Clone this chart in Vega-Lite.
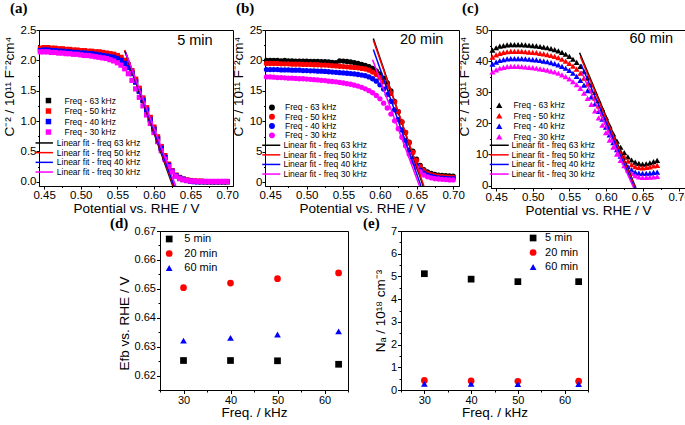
{
"$schema": "https://vega.github.io/schema/vega-lite/v6.json",
"background": "white",
"padding": {"left": 1, "top": 0, "right": 0, "bottom": 0},
"config": {
  "font": "Liberation Sans",
  "view": {"stroke": "black", "strokeWidth": 1},
  "axis": {"grid": false, "domainColor": "black", "tickColor": "black", "labelColor": "black", "titleColor": "black", "labelFont": "Liberation Sans", "titleFont": "Liberation Sans", "labelFontSize": 11.5, "titleFontSize": 13.5, "titleFontWeight": "normal", "labelFlush": false, "labelOverlap": false, "labelBound": false, "labelPadding": 1, "tickWidth": 1, "domainWidth": 1},
  "legend": {"labelFont": "Liberation Sans", "labelColor": "black"},
  "title": {"font": "Liberation Serif", "fontSize": 15, "fontWeight": "bold", "color": "black", "anchor": "start", "frame": "group"}
},
"datasets": {
"a": [
{"f":"63","x":0.445,"y":2.17},{"f":"63","x":0.45,"y":2.18},{"f":"63","x":0.455,"y":2.18},{"f":"63","x":0.46,"y":2.17},{"f":"63","x":0.465,"y":2.17},{"f":"63","x":0.47,"y":2.16},{"f":"63","x":0.475,"y":2.16},{"f":"63","x":0.48,"y":2.15},{"f":"63","x":0.485,"y":2.15},{"f":"63","x":0.49,"y":2.14},{"f":"63","x":0.495,"y":2.14},{"f":"63","x":0.5,"y":2.13},{"f":"63","x":0.505,"y":2.13},{"f":"63","x":0.51,"y":2.12},{"f":"63","x":0.515,"y":2.12},{"f":"63","x":0.52,"y":2.11},{"f":"63","x":0.525,"y":2.11},{"f":"63","x":0.53,"y":2.10},{"f":"63","x":0.535,"y":2.09},{"f":"63","x":0.54,"y":2.08},{"f":"63","x":0.545,"y":2.07},{"f":"63","x":0.55,"y":2.05},{"f":"63","x":0.555,"y":2.02},{"f":"63","x":0.56,"y":1.97},{"f":"63","x":0.565,"y":1.90},{"f":"63","x":0.57,"y":1.80},{"f":"63","x":0.575,"y":1.66},{"f":"63","x":0.58,"y":1.50},{"f":"63","x":0.585,"y":1.35},{"f":"63","x":0.59,"y":1.19},{"f":"63","x":0.595,"y":1.03},{"f":"63","x":0.6,"y":0.87},{"f":"63","x":0.605,"y":0.71},{"f":"63","x":0.61,"y":0.55},{"f":"63","x":0.615,"y":0.40},{"f":"63","x":0.62,"y":0.27},{"f":"63","x":0.625,"y":0.17},{"f":"63","x":0.63,"y":0.10},{"f":"63","x":0.635,"y":0.06},{"f":"63","x":0.64,"y":0.04},{"f":"63","x":0.645,"y":0.02},{"f":"63","x":0.65,"y":0.01},{"f":"63","x":0.655,"y":0.01},{"f":"63","x":0.66,"y":0},{"f":"63","x":0.665,"y":0},{"f":"63","x":0.67,"y":0},{"f":"63","x":0.675,"y":0},{"f":"63","x":0.68,"y":0},{"f":"63","x":0.685,"y":0},{"f":"63","x":0.69,"y":0},{"f":"63","x":0.695,"y":0},{"f":"63","x":0.7,"y":0},
{"f":"50","x":0.445,"y":2.20},{"f":"50","x":0.45,"y":2.21},{"f":"50","x":0.455,"y":2.21},{"f":"50","x":0.46,"y":2.20},{"f":"50","x":0.465,"y":2.20},{"f":"50","x":0.47,"y":2.19},{"f":"50","x":0.475,"y":2.19},{"f":"50","x":0.48,"y":2.18},{"f":"50","x":0.485,"y":2.18},{"f":"50","x":0.49,"y":2.17},{"f":"50","x":0.495,"y":2.17},{"f":"50","x":0.5,"y":2.16},{"f":"50","x":0.505,"y":2.16},{"f":"50","x":0.51,"y":2.15},{"f":"50","x":0.515,"y":2.15},{"f":"50","x":0.52,"y":2.14},{"f":"50","x":0.525,"y":2.14},{"f":"50","x":0.53,"y":2.13},{"f":"50","x":0.535,"y":2.12},{"f":"50","x":0.54,"y":2.11},{"f":"50","x":0.545,"y":2.10},{"f":"50","x":0.55,"y":2.08},{"f":"50","x":0.555,"y":2.05},{"f":"50","x":0.56,"y":2.00},{"f":"50","x":0.565,"y":1.93},{"f":"50","x":0.57,"y":1.83},{"f":"50","x":0.575,"y":1.69},{"f":"50","x":0.58,"y":1.54},{"f":"50","x":0.585,"y":1.38},{"f":"50","x":0.59,"y":1.22},{"f":"50","x":0.595,"y":1.06},{"f":"50","x":0.6,"y":0.90},{"f":"50","x":0.605,"y":0.74},{"f":"50","x":0.61,"y":0.58},{"f":"50","x":0.615,"y":0.43},{"f":"50","x":0.62,"y":0.29},{"f":"50","x":0.625,"y":0.18},{"f":"50","x":0.63,"y":0.11},{"f":"50","x":0.635,"y":0.07},{"f":"50","x":0.64,"y":0.04},{"f":"50","x":0.645,"y":0.03},{"f":"50","x":0.65,"y":0.02},{"f":"50","x":0.655,"y":0.01},{"f":"50","x":0.66,"y":0.01},{"f":"50","x":0.665,"y":0.01},{"f":"50","x":0.67,"y":0},{"f":"50","x":0.675,"y":0},{"f":"50","x":0.68,"y":0},{"f":"50","x":0.685,"y":0},{"f":"50","x":0.69,"y":0},{"f":"50","x":0.695,"y":0},{"f":"50","x":0.7,"y":0},
{"f":"40","x":0.445,"y":2.16},{"f":"40","x":0.45,"y":2.17},{"f":"40","x":0.455,"y":2.17},{"f":"40","x":0.46,"y":2.16},{"f":"40","x":0.465,"y":2.16},{"f":"40","x":0.47,"y":2.15},{"f":"40","x":0.475,"y":2.15},{"f":"40","x":0.48,"y":2.14},{"f":"40","x":0.485,"y":2.14},{"f":"40","x":0.49,"y":2.13},{"f":"40","x":0.495,"y":2.13},{"f":"40","x":0.5,"y":2.12},{"f":"40","x":0.505,"y":2.12},{"f":"40","x":0.51,"y":2.11},{"f":"40","x":0.515,"y":2.11},{"f":"40","x":0.52,"y":2.10},{"f":"40","x":0.525,"y":2.09},{"f":"40","x":0.53,"y":2.08},{"f":"40","x":0.535,"y":2.07},{"f":"40","x":0.54,"y":2.06},{"f":"40","x":0.545,"y":2.05},{"f":"40","x":0.55,"y":2.03},{"f":"40","x":0.555,"y":2.00},{"f":"40","x":0.56,"y":1.95},{"f":"40","x":0.565,"y":1.88},{"f":"40","x":0.57,"y":1.78},{"f":"40","x":0.575,"y":1.64},{"f":"40","x":0.58,"y":1.49},{"f":"40","x":0.585,"y":1.34},{"f":"40","x":0.59,"y":1.18},{"f":"40","x":0.595,"y":1.02},{"f":"40","x":0.6,"y":0.86},{"f":"40","x":0.605,"y":0.70},{"f":"40","x":0.61,"y":0.55},{"f":"40","x":0.615,"y":0.40},{"f":"40","x":0.62,"y":0.27},{"f":"40","x":0.625,"y":0.17},{"f":"40","x":0.63,"y":0.10},{"f":"40","x":0.635,"y":0.06},{"f":"40","x":0.64,"y":0.04},{"f":"40","x":0.645,"y":0.02},{"f":"40","x":0.65,"y":0.01},{"f":"40","x":0.655,"y":0},{"f":"40","x":0.66,"y":0},{"f":"40","x":0.665,"y":0},{"f":"40","x":0.67,"y":0},{"f":"40","x":0.675,"y":0},{"f":"40","x":0.68,"y":0},{"f":"40","x":0.685,"y":0},{"f":"40","x":0.69,"y":0},{"f":"40","x":0.695,"y":0},{"f":"40","x":0.7,"y":0},
{"f":"30","x":0.445,"y":2.14},{"f":"30","x":0.45,"y":2.14},{"f":"30","x":0.455,"y":2.14},{"f":"30","x":0.46,"y":2.13},{"f":"30","x":0.465,"y":2.13},{"f":"30","x":0.47,"y":2.12},{"f":"30","x":0.475,"y":2.12},{"f":"30","x":0.48,"y":2.11},{"f":"30","x":0.485,"y":2.11},{"f":"30","x":0.49,"y":2.10},{"f":"30","x":0.495,"y":2.10},{"f":"30","x":0.5,"y":2.09},{"f":"30","x":0.505,"y":2.08},{"f":"30","x":0.51,"y":2.08},{"f":"30","x":0.515,"y":2.07},{"f":"30","x":0.52,"y":2.06},{"f":"30","x":0.525,"y":2.05},{"f":"30","x":0.53,"y":2.04},{"f":"30","x":0.535,"y":2.03},{"f":"30","x":0.54,"y":2.01},{"f":"30","x":0.545,"y":1.99},{"f":"30","x":0.55,"y":1.96},{"f":"30","x":0.555,"y":1.92},{"f":"30","x":0.56,"y":1.86},{"f":"30","x":0.565,"y":1.78},{"f":"30","x":0.57,"y":1.67},{"f":"30","x":0.575,"y":1.53},{"f":"30","x":0.58,"y":1.39},{"f":"30","x":0.585,"y":1.25},{"f":"30","x":0.59,"y":1.10},{"f":"30","x":0.595,"y":0.96},{"f":"30","x":0.6,"y":0.81},{"f":"30","x":0.605,"y":0.66},{"f":"30","x":0.61,"y":0.51},{"f":"30","x":0.615,"y":0.37},{"f":"30","x":0.62,"y":0.25},{"f":"30","x":0.625,"y":0.16},{"f":"30","x":0.63,"y":0.09},{"f":"30","x":0.635,"y":0.05},{"f":"30","x":0.64,"y":0.03},{"f":"30","x":0.645,"y":0.02},{"f":"30","x":0.65,"y":0.01},{"f":"30","x":0.655,"y":0.01},{"f":"30","x":0.66,"y":0.005},{"f":"30","x":0.665,"y":0.005},{"f":"30","x":0.67,"y":0.005},{"f":"30","x":0.675,"y":0.005},{"f":"30","x":0.68,"y":0.005},{"f":"30","x":0.685,"y":0.005},{"f":"30","x":0.69,"y":0.005},{"f":"30","x":0.695,"y":0.005},{"f":"30","x":0.7,"y":0.005}
],
"aL": [
{"g":"Linear fit - freq 63 kHz","x":0.560,"y":2.16},{"g":"Linear fit - freq 63 kHz","x":0.626,"y":-0.08},
{"g":"Linear fit - freq 50 kHz","x":0.560,"y":2.17},{"g":"Linear fit - freq 50 kHz","x":0.627,"y":-0.08},
{"g":"Linear fit - freq 40 kHz","x":0.561,"y":2.14},{"g":"Linear fit - freq 40 kHz","x":0.628,"y":-0.08},
{"g":"Linear fit - freq 30 kHz","x":0.562,"y":2.11},{"g":"Linear fit - freq 30 kHz","x":0.630,"y":-0.08}
],
"aT": [{"t":"5 min","x":0.656,"y":2.32}],
"b": [
{"f":"63","x":0.445,"y":20.0},{"f":"63","x":0.45,"y":20.0},{"f":"63","x":0.455,"y":20.0},{"f":"63","x":0.46,"y":20.0},{"f":"63","x":0.465,"y":19.95},{"f":"63","x":0.47,"y":20.0},{"f":"63","x":0.475,"y":19.95},{"f":"63","x":0.48,"y":19.95},{"f":"63","x":0.485,"y":19.9},{"f":"63","x":0.49,"y":19.9},{"f":"63","x":0.495,"y":19.9},{"f":"63","x":0.5,"y":19.9},{"f":"63","x":0.505,"y":19.85},{"f":"63","x":0.51,"y":19.85},{"f":"63","x":0.515,"y":19.85},{"f":"63","x":0.52,"y":19.8},{"f":"63","x":0.525,"y":19.8},{"f":"63","x":0.53,"y":19.75},{"f":"63","x":0.535,"y":19.7},{"f":"63","x":0.54,"y":19.65},{"f":"63","x":0.545,"y":19.95},{"f":"63","x":0.55,"y":19.9},{"f":"63","x":0.555,"y":19.85},{"f":"63","x":0.56,"y":19.75},{"f":"63","x":0.565,"y":19.65},{"f":"63","x":0.57,"y":19.5},{"f":"63","x":0.575,"y":19.35},{"f":"63","x":0.58,"y":19.2},{"f":"63","x":0.585,"y":19.0},{"f":"63","x":0.59,"y":18.7},{"f":"63","x":0.595,"y":18.3},{"f":"63","x":0.6,"y":17.8},{"f":"63","x":0.605,"y":17.1},{"f":"63","x":0.61,"y":16.3},{"f":"63","x":0.615,"y":15.0},{"f":"63","x":0.62,"y":13.3},{"f":"63","x":0.625,"y":11.6},{"f":"63","x":0.63,"y":9.9},{"f":"63","x":0.635,"y":8.2},{"f":"63","x":0.64,"y":6.6},{"f":"63","x":0.645,"y":5.1},{"f":"63","x":0.65,"y":3.8},{"f":"63","x":0.655,"y":2.8},{"f":"63","x":0.66,"y":2.1},{"f":"63","x":0.665,"y":1.7},{"f":"63","x":0.67,"y":1.45},{"f":"63","x":0.675,"y":1.3},{"f":"63","x":0.68,"y":1.2},{"f":"63","x":0.685,"y":1.15},{"f":"63","x":0.69,"y":1.1},{"f":"63","x":0.695,"y":1.05},{"f":"63","x":0.7,"y":1.0},
{"f":"50","x":0.445,"y":19.5},{"f":"50","x":0.45,"y":19.5},{"f":"50","x":0.455,"y":19.5},{"f":"50","x":0.46,"y":19.5},{"f":"50","x":0.465,"y":19.45},{"f":"50","x":0.47,"y":19.45},{"f":"50","x":0.475,"y":19.45},{"f":"50","x":0.48,"y":19.4},{"f":"50","x":0.485,"y":19.4},{"f":"50","x":0.49,"y":19.4},{"f":"50","x":0.495,"y":19.35},{"f":"50","x":0.5,"y":19.35},{"f":"50","x":0.505,"y":19.35},{"f":"50","x":0.51,"y":19.3},{"f":"50","x":0.515,"y":19.3},{"f":"50","x":0.52,"y":19.25},{"f":"50","x":0.525,"y":19.25},{"f":"50","x":0.53,"y":19.2},{"f":"50","x":0.535,"y":19.15},{"f":"50","x":0.54,"y":19.1},{"f":"50","x":0.545,"y":19.05},{"f":"50","x":0.55,"y":19.0},{"f":"50","x":0.555,"y":18.95},{"f":"50","x":0.56,"y":18.9},{"f":"50","x":0.565,"y":18.85},{"f":"50","x":0.57,"y":18.8},{"f":"50","x":0.575,"y":18.7},{"f":"50","x":0.58,"y":18.6},{"f":"50","x":0.585,"y":18.4},{"f":"50","x":0.59,"y":18.1},{"f":"50","x":0.595,"y":17.7},{"f":"50","x":0.6,"y":17.2},{"f":"50","x":0.605,"y":16.5},{"f":"50","x":0.61,"y":15.7},{"f":"50","x":0.615,"y":14.6},{"f":"50","x":0.62,"y":13.2},{"f":"50","x":0.625,"y":11.6},{"f":"50","x":0.63,"y":9.9},{"f":"50","x":0.635,"y":8.2},{"f":"50","x":0.64,"y":6.5},{"f":"50","x":0.645,"y":4.9},{"f":"50","x":0.65,"y":3.6},{"f":"50","x":0.655,"y":2.6},{"f":"50","x":0.66,"y":1.9},{"f":"50","x":0.665,"y":1.5},{"f":"50","x":0.67,"y":1.25},{"f":"50","x":0.675,"y":1.1},{"f":"50","x":0.68,"y":1.0},{"f":"50","x":0.685,"y":0.95},{"f":"50","x":0.69,"y":0.9},{"f":"50","x":0.695,"y":0.85},{"f":"50","x":0.7,"y":0.8},
{"f":"40","x":0.445,"y":18.5},{"f":"40","x":0.45,"y":18.5},{"f":"40","x":0.455,"y":18.5},{"f":"40","x":0.46,"y":18.5},{"f":"40","x":0.465,"y":18.45},{"f":"40","x":0.47,"y":18.45},{"f":"40","x":0.475,"y":18.45},{"f":"40","x":0.48,"y":18.4},{"f":"40","x":0.485,"y":18.4},{"f":"40","x":0.49,"y":18.4},{"f":"40","x":0.495,"y":18.35},{"f":"40","x":0.5,"y":18.35},{"f":"40","x":0.505,"y":18.3},{"f":"40","x":0.51,"y":18.3},{"f":"40","x":0.515,"y":18.25},{"f":"40","x":0.52,"y":18.25},{"f":"40","x":0.525,"y":18.2},{"f":"40","x":0.53,"y":18.15},{"f":"40","x":0.535,"y":18.1},{"f":"40","x":0.54,"y":18.05},{"f":"40","x":0.545,"y":18.0},{"f":"40","x":0.55,"y":17.95},{"f":"40","x":0.555,"y":17.9},{"f":"40","x":0.56,"y":17.85},{"f":"40","x":0.565,"y":17.8},{"f":"40","x":0.57,"y":17.7},{"f":"40","x":0.575,"y":17.6},{"f":"40","x":0.58,"y":17.5},{"f":"40","x":0.585,"y":17.3},{"f":"40","x":0.59,"y":17.0},{"f":"40","x":0.595,"y":16.6},{"f":"40","x":0.6,"y":16.0},{"f":"40","x":0.605,"y":15.3},{"f":"40","x":0.61,"y":14.4},{"f":"40","x":0.615,"y":13.3},{"f":"40","x":0.62,"y":11.9},{"f":"40","x":0.625,"y":10.3},{"f":"40","x":0.63,"y":8.6},{"f":"40","x":0.635,"y":6.9},{"f":"40","x":0.64,"y":5.3},{"f":"40","x":0.645,"y":3.9},{"f":"40","x":0.65,"y":2.8},{"f":"40","x":0.655,"y":2.0},{"f":"40","x":0.66,"y":1.5},{"f":"40","x":0.665,"y":1.2},{"f":"40","x":0.67,"y":1.0},{"f":"40","x":0.675,"y":0.85},{"f":"40","x":0.68,"y":0.75},{"f":"40","x":0.685,"y":0.7},{"f":"40","x":0.69,"y":0.65},{"f":"40","x":0.695,"y":0.6},{"f":"40","x":0.7,"y":0.6},
{"f":"30","x":0.445,"y":17.3},{"f":"30","x":0.45,"y":17.3},{"f":"30","x":0.455,"y":17.25},{"f":"30","x":0.46,"y":17.2},{"f":"30","x":0.465,"y":17.2},{"f":"30","x":0.47,"y":17.15},{"f":"30","x":0.475,"y":17.1},{"f":"30","x":0.48,"y":17.1},{"f":"30","x":0.485,"y":17.05},{"f":"30","x":0.49,"y":17.0},{"f":"30","x":0.495,"y":17.0},{"f":"30","x":0.5,"y":16.95},{"f":"30","x":0.505,"y":16.9},{"f":"30","x":0.51,"y":16.85},{"f":"30","x":0.515,"y":16.8},{"f":"30","x":0.52,"y":16.75},{"f":"30","x":0.525,"y":16.7},{"f":"30","x":0.53,"y":16.6},{"f":"30","x":0.535,"y":16.55},{"f":"30","x":0.54,"y":16.5},{"f":"30","x":0.545,"y":16.4},{"f":"30","x":0.55,"y":16.3},{"f":"30","x":0.555,"y":16.2},{"f":"30","x":0.56,"y":16.1},{"f":"30","x":0.565,"y":15.95},{"f":"30","x":0.57,"y":15.8},{"f":"30","x":0.575,"y":15.6},{"f":"30","x":0.58,"y":15.35},{"f":"30","x":0.585,"y":15.05},{"f":"30","x":0.59,"y":14.7},{"f":"30","x":0.595,"y":14.25},{"f":"30","x":0.6,"y":13.7},{"f":"30","x":0.605,"y":13.0},{"f":"30","x":0.61,"y":12.2},{"f":"30","x":0.615,"y":11.2},{"f":"30","x":0.62,"y":10.1},{"f":"30","x":0.625,"y":8.8},{"f":"30","x":0.63,"y":7.4},{"f":"30","x":0.635,"y":6.0},{"f":"30","x":0.64,"y":4.6},{"f":"30","x":0.645,"y":3.4},{"f":"30","x":0.65,"y":2.4},{"f":"30","x":0.655,"y":1.7},{"f":"30","x":0.66,"y":1.2},{"f":"30","x":0.665,"y":0.9},{"f":"30","x":0.67,"y":0.75},{"f":"30","x":0.675,"y":0.6},{"f":"30","x":0.68,"y":0.55},{"f":"30","x":0.685,"y":0.5},{"f":"30","x":0.69,"y":0.45},{"f":"30","x":0.695,"y":0.4},{"f":"30","x":0.7,"y":0.4}
],
"bL": [
{"g":"Linear fit - freq 63 kHz","x":0.591,"y":23.6},{"g":"Linear fit - freq 63 kHz","x":0.659,"y":-0.6},
{"g":"Linear fit - freq 50 kHz","x":0.591,"y":23.3},{"g":"Linear fit - freq 50 kHz","x":0.660,"y":-0.6},
{"g":"Linear fit - freq 40 kHz","x":0.591,"y":21.8},{"g":"Linear fit - freq 40 kHz","x":0.656,"y":-0.6},
{"g":"Linear fit - freq 30 kHz","x":0.590,"y":20.1},{"g":"Linear fit - freq 30 kHz","x":0.654,"y":-0.6}
],
"bT": [{"t":"20 min","x":0.657,"y":23.4}],
"c": [
{"f":"63","x":0.445,"y":43.5},{"f":"63","x":0.45,"y":44.3},{"f":"63","x":0.455,"y":44.8},{"f":"63","x":0.46,"y":45.0},{"f":"63","x":0.465,"y":45.2},{"f":"63","x":0.47,"y":45.3},{"f":"63","x":0.475,"y":45.3},{"f":"63","x":0.48,"y":45.3},{"f":"63","x":0.485,"y":45.3},{"f":"63","x":0.49,"y":45.2},{"f":"63","x":0.495,"y":45.1},{"f":"63","x":0.5,"y":45.0},{"f":"63","x":0.505,"y":44.9},{"f":"63","x":0.51,"y":44.7},{"f":"63","x":0.515,"y":44.5},{"f":"63","x":0.52,"y":44.3},{"f":"63","x":0.525,"y":44.0},{"f":"63","x":0.53,"y":43.7},{"f":"63","x":0.535,"y":43.3},{"f":"63","x":0.54,"y":42.8},{"f":"63","x":0.545,"y":42.2},{"f":"63","x":0.55,"y":41.5},{"f":"63","x":0.555,"y":40.6},{"f":"63","x":0.56,"y":39.6},{"f":"63","x":0.565,"y":38.3},{"f":"63","x":0.57,"y":36.6},{"f":"63","x":0.575,"y":34.6},{"f":"63","x":0.58,"y":32.4},{"f":"63","x":0.585,"y":29.9},{"f":"63","x":0.59,"y":27.3},{"f":"63","x":0.595,"y":24.6},{"f":"63","x":0.6,"y":21.9},{"f":"63","x":0.605,"y":19.2},{"f":"63","x":0.61,"y":16.6},{"f":"63","x":0.615,"y":14.3},{"f":"63","x":0.62,"y":12.3},{"f":"63","x":0.625,"y":10.6},{"f":"63","x":0.63,"y":9.2},{"f":"63","x":0.635,"y":8.2},{"f":"63","x":0.64,"y":7.5},{"f":"63","x":0.645,"y":7.1},{"f":"63","x":0.65,"y":6.9},{"f":"63","x":0.655,"y":7.0},{"f":"63","x":0.66,"y":7.3},{"f":"63","x":0.665,"y":7.7},{"f":"63","x":0.67,"y":8.1},
{"f":"50","x":0.445,"y":41.3},{"f":"50","x":0.45,"y":42.0},{"f":"50","x":0.455,"y":42.5},{"f":"50","x":0.46,"y":42.8},{"f":"50","x":0.465,"y":43.0},{"f":"50","x":0.47,"y":43.1},{"f":"50","x":0.475,"y":43.1},{"f":"50","x":0.48,"y":43.1},{"f":"50","x":0.485,"y":43.1},{"f":"50","x":0.49,"y":43.0},{"f":"50","x":0.495,"y":42.9},{"f":"50","x":0.5,"y":42.8},{"f":"50","x":0.505,"y":42.7},{"f":"50","x":0.51,"y":42.5},{"f":"50","x":0.515,"y":42.3},{"f":"50","x":0.52,"y":42.1},{"f":"50","x":0.525,"y":41.8},{"f":"50","x":0.53,"y":41.5},{"f":"50","x":0.535,"y":41.1},{"f":"50","x":0.54,"y":40.6},{"f":"50","x":0.545,"y":40.0},{"f":"50","x":0.55,"y":39.3},{"f":"50","x":0.555,"y":38.4},{"f":"50","x":0.56,"y":37.4},{"f":"50","x":0.565,"y":36.1},{"f":"50","x":0.57,"y":34.5},{"f":"50","x":0.575,"y":32.6},{"f":"50","x":0.58,"y":30.5},{"f":"50","x":0.585,"y":28.1},{"f":"50","x":0.59,"y":25.6},{"f":"50","x":0.595,"y":23.0},{"f":"50","x":0.6,"y":20.4},{"f":"50","x":0.605,"y":17.8},{"f":"50","x":0.61,"y":15.3},{"f":"50","x":0.615,"y":13.0},{"f":"50","x":0.62,"y":11.0},{"f":"50","x":0.625,"y":9.2},{"f":"50","x":0.63,"y":7.8},{"f":"50","x":0.635,"y":6.7},{"f":"50","x":0.64,"y":6.1},{"f":"50","x":0.645,"y":5.8},{"f":"50","x":0.65,"y":5.7},{"f":"50","x":0.655,"y":5.8},{"f":"50","x":0.66,"y":6.0},{"f":"50","x":0.665,"y":6.3},{"f":"50","x":0.67,"y":6.5},
{"f":"40","x":0.445,"y":39.0},{"f":"40","x":0.45,"y":39.7},{"f":"40","x":0.455,"y":40.2},{"f":"40","x":0.46,"y":40.5},{"f":"40","x":0.465,"y":40.7},{"f":"40","x":0.47,"y":40.8},{"f":"40","x":0.475,"y":40.8},{"f":"40","x":0.48,"y":40.8},{"f":"40","x":0.485,"y":40.8},{"f":"40","x":0.49,"y":40.7},{"f":"40","x":0.495,"y":40.6},{"f":"40","x":0.5,"y":40.5},{"f":"40","x":0.505,"y":40.4},{"f":"40","x":0.51,"y":40.2},{"f":"40","x":0.515,"y":40.0},{"f":"40","x":0.52,"y":39.8},{"f":"40","x":0.525,"y":39.5},{"f":"40","x":0.53,"y":39.2},{"f":"40","x":0.535,"y":38.8},{"f":"40","x":0.54,"y":38.3},{"f":"40","x":0.545,"y":37.7},{"f":"40","x":0.55,"y":37.0},{"f":"40","x":0.555,"y":36.1},{"f":"40","x":0.56,"y":35.1},{"f":"40","x":0.565,"y":33.8},{"f":"40","x":0.57,"y":32.3},{"f":"40","x":0.575,"y":30.5},{"f":"40","x":0.58,"y":28.5},{"f":"40","x":0.585,"y":26.2},{"f":"40","x":0.59,"y":23.8},{"f":"40","x":0.595,"y":21.3},{"f":"40","x":0.6,"y":18.8},{"f":"40","x":0.605,"y":16.3},{"f":"40","x":0.61,"y":13.8},{"f":"40","x":0.615,"y":11.5},{"f":"40","x":0.62,"y":9.4},{"f":"40","x":0.625,"y":7.6},{"f":"40","x":0.63,"y":6.1},{"f":"40","x":0.635,"y":5.0},{"f":"40","x":0.64,"y":4.3},{"f":"40","x":0.645,"y":4.0},{"f":"40","x":0.65,"y":3.9},{"f":"40","x":0.655,"y":3.9},{"f":"40","x":0.66,"y":4.0},{"f":"40","x":0.665,"y":4.2},{"f":"40","x":0.67,"y":4.3},
{"f":"30","x":0.445,"y":36.5},{"f":"30","x":0.45,"y":37.2},{"f":"30","x":0.455,"y":37.7},{"f":"30","x":0.46,"y":38.0},{"f":"30","x":0.465,"y":38.2},{"f":"30","x":0.47,"y":38.3},{"f":"30","x":0.475,"y":38.3},{"f":"30","x":0.48,"y":38.3},{"f":"30","x":0.485,"y":38.2},{"f":"30","x":0.49,"y":38.1},{"f":"30","x":0.495,"y":38.0},{"f":"30","x":0.5,"y":37.9},{"f":"30","x":0.505,"y":37.7},{"f":"30","x":0.51,"y":37.5},{"f":"30","x":0.515,"y":37.3},{"f":"30","x":0.52,"y":37.1},{"f":"30","x":0.525,"y":36.8},{"f":"30","x":0.53,"y":36.5},{"f":"30","x":0.535,"y":36.1},{"f":"30","x":0.54,"y":35.6},{"f":"30","x":0.545,"y":35.0},{"f":"30","x":0.55,"y":34.3},{"f":"30","x":0.555,"y":33.4},{"f":"30","x":0.56,"y":32.4},{"f":"30","x":0.565,"y":31.2},{"f":"30","x":0.57,"y":29.7},{"f":"30","x":0.575,"y":28.0},{"f":"30","x":0.58,"y":26.1},{"f":"30","x":0.585,"y":24.0},{"f":"30","x":0.59,"y":21.7},{"f":"30","x":0.595,"y":19.4},{"f":"30","x":0.6,"y":17.0},{"f":"30","x":0.605,"y":14.6},{"f":"30","x":0.61,"y":12.3},{"f":"30","x":0.615,"y":10.1},{"f":"30","x":0.62,"y":8.1},{"f":"30","x":0.625,"y":6.4},{"f":"30","x":0.63,"y":5.0},{"f":"30","x":0.635,"y":3.9},{"f":"30","x":0.64,"y":3.2},{"f":"30","x":0.645,"y":2.8},{"f":"30","x":0.65,"y":2.6},{"f":"30","x":0.655,"y":2.6},{"f":"30","x":0.66,"y":2.7},{"f":"30","x":0.665,"y":2.8},{"f":"30","x":0.67,"y":2.9}
],
"cL": [
{"g":"Linear fit - freq 63 kHz","x":0.564,"y":42.7},{"g":"Linear fit - freq 63 kHz","x":0.641,"y":-0.8},
{"g":"Linear fit - freq 50 kHz","x":0.565,"y":41.5},{"g":"Linear fit - freq 50 kHz","x":0.640,"y":-0.8},
{"g":"Linear fit - freq 40 kHz","x":0.566,"y":39.0},{"g":"Linear fit - freq 40 kHz","x":0.639,"y":-0.8},
{"g":"Linear fit - freq 30 kHz","x":0.566,"y":36.8},{"g":"Linear fit - freq 30 kHz","x":0.638,"y":-0.8}
],
"cT": [{"t":"60 min","x":0.662,"y":47.0}],
"d": [
{"t":"5 min","x":30,"y":0.6252},{"t":"5 min","x":40,"y":0.6252},{"t":"5 min","x":50,"y":0.6251},{"t":"5 min","x":63,"y":0.6239},
{"t":"20 min","x":30,"y":0.6504},{"t":"20 min","x":40,"y":0.652},{"t":"20 min","x":50,"y":0.6535},{"t":"20 min","x":63,"y":0.6555},
{"t":"60 min","x":30,"y":0.6321},{"t":"60 min","x":40,"y":0.633},{"t":"60 min","x":50,"y":0.6342},{"t":"60 min","x":63,"y":0.6353}
],
"e": [
{"t":"5 min","x":30,"y":5.12},{"t":"5 min","x":40,"y":4.88},{"t":"5 min","x":50,"y":4.77},{"t":"5 min","x":63,"y":4.77},
{"t":"20 min","x":30,"y":0.42},{"t":"20 min","x":40,"y":0.40},{"t":"20 min","x":50,"y":0.38},{"t":"20 min","x":63,"y":0.39},
{"t":"60 min","x":30,"y":0.27},{"t":"60 min","x":40,"y":0.27},{"t":"60 min","x":50,"y":0.26},{"t":"60 min","x":63,"y":0.26}
]
},
"spacing": -3,
"resolve": {"scale": {"color": "independent", "stroke": "independent", "shape": "independent"}, "legend": {"color": "independent", "stroke": "independent", "shape": "independent"}},
"vconcat": [
{
"bounds": "flush",
"spacing": 32,
"resolve": {"scale": {"color": "independent", "stroke": "independent", "shape": "independent"}, "legend": {"color": "independent", "stroke": "independent", "shape": "independent"}},
"hconcat": [
{
"width": 194, "height": 156,
"title": {"text": "(a)", "dx": -29, "offset": 8},
"encoding": {
  "x": {"field": "x", "type": "quantitative", "scale": {"domain": [0.443, 0.708], "nice": false, "zero": false},
        "axis": {"title": "Potential vs. RHE / V", "titlePadding": 1, "labelPadding": 0, "values": [0.45,0.475,0.5,0.525,0.55,0.575,0.6,0.625,0.65,0.675,0.7],
                 "labelExpr": "abs(datum.value*20-round(datum.value*20))<1e-6 ? format(datum.value,'.2f') : ''",
                 "tickSize": {"condition": {"test": "abs(datum.value*20-round(datum.value*20))<1e-6", "value": 3}, "value": 1.5}}},
  "y": {"field": "y", "type": "quantitative", "scale": {"domain": [-0.071, 2.5], "nice": false, "zero": false},
        "axis": {"title": "C⁻² / 10¹¹ F⁻²cm⁴", "titlePadding": 4, "labelPadding": 0, "titleY": 56, "values": [0,0.25,0.5,0.75,1,1.25,1.5,1.75,2,2.25,2.5],
                 "labelExpr": "abs(datum.value*2-round(datum.value*2))<1e-6 ? format(datum.value,'.1f') : ''",
                 "tickSize": {"condition": {"test": "abs(datum.value*2-round(datum.value*2))<1e-6", "value": 3}, "value": 1.5}}}
},
"layer": [
  {"data": {"name": "a"}, "mark": {"type": "point", "filled": true, "shape": "square", "size": 27, "opacity": 1},
   "encoding": {"color": {"field": "f", "type": "nominal", "scale": {"domain": ["63","50","40","30"], "range": ["#000000","#ff0000","#0000ff","#ff00ff"]},
     "legend": {"orient": "none", "legendX": 5.2, "legendY": 66.3, "title": null, "symbolType": "square", "symbolSize": 30, "labelFontSize": 8.5, "labelOffset": 11.8, "rowPadding": 1.5, "labelExpr": "'Freq - ' + datum.label + ' kHz'"}}}},
  {"data": {"name": "aL"}, "mark": {"type": "line", "strokeWidth": 1.5, "clip": true},
   "encoding": {"stroke": {"field": "g", "type": "nominal", "scale": {"domain": ["Linear fit - freq 63 kHz","Linear fit - freq 50 kHz","Linear fit - freq 40 kHz","Linear fit - freq 30 kHz"], "range": ["#000000","#ff0000","#0000ff","#ff00ff"]},
     "legend": {"orient": "none", "legendX": 1, "legendY": 108.7, "title": null, "symbolType": "M-4.35,0H4.35", "symbolSize": 16, "symbolStrokeWidth": 1.5, "labelFontSize": 8.5, "labelOffset": 8.3, "rowPadding": 0.7}}}},
  {"data": {"name": "aT"}, "mark": {"type": "text", "fontSize": 14.5, "color": "black"}, "encoding": {"text": {"field": "t"}}}
]
},
{
"width": 194, "height": 156,
"title": {"text": "(b)", "dx": -29, "offset": 8},
"encoding": {
  "x": {"field": "x", "type": "quantitative", "scale": {"domain": [0.443, 0.708], "nice": false, "zero": false},
        "axis": {"title": "Potential vs. RHE / V", "titlePadding": 1, "labelPadding": 0, "values": [0.45,0.475,0.5,0.525,0.55,0.575,0.6,0.625,0.65,0.675,0.7],
                 "labelExpr": "abs(datum.value*20-round(datum.value*20))<1e-6 ? format(datum.value,'.2f') : ''",
                 "tickSize": {"condition": {"test": "abs(datum.value*20-round(datum.value*20))<1e-6", "value": 3}, "value": 1.5}}},
  "y": {"field": "y", "type": "quantitative", "scale": {"domain": [-0.6, 25], "nice": false, "zero": false},
        "axis": {"title": "C⁻² / 10¹¹ F⁻²cm⁴", "titlePadding": 4, "labelPadding": 0, "titleY": 56, "values": [0,2.5,5,7.5,10,12.5,15,17.5,20,22.5,25],
                 "labelExpr": "datum.value % 5 === 0 ? format(datum.value,'d') : ''",
                 "tickSize": {"condition": {"test": "datum.value % 5 === 0", "value": 3}, "value": 1.5}}}
},
"layer": [
  {"data": {"name": "b"}, "mark": {"type": "point", "filled": true, "shape": "circle", "size": 28, "opacity": 1},
   "encoding": {"color": {"field": "f", "type": "nominal", "scale": {"domain": ["63","50","40","30"], "range": ["#000000","#ff0000","#0000ff","#ff00ff"]},
     "legend": {"orient": "none", "legendX": 2.7, "legendY": 73.2, "title": null, "symbolType": "circle", "symbolSize": 35, "labelFontSize": 8.5, "labelOffset": 8.9, "rowPadding": 0.3, "labelExpr": "'Freq - ' + datum.label + ' kHz'"}}}},
  {"data": {"name": "bL"}, "mark": {"type": "line", "strokeWidth": 1.5, "clip": true},
   "encoding": {"stroke": {"field": "g", "type": "nominal", "scale": {"domain": ["Linear fit - freq 63 kHz","Linear fit - freq 50 kHz","Linear fit - freq 40 kHz","Linear fit - freq 30 kHz"], "range": ["#000000","#ff0000","#0000ff","#ff00ff"]},
     "legend": {"orient": "none", "legendX": 2, "legendY": 111, "title": null, "symbolType": "M-4.5,0H4.5", "symbolSize": 16, "symbolStrokeWidth": 1.5, "labelFontSize": 8.5, "labelOffset": 8, "rowPadding": 0.6}}}},
  {"data": {"name": "bT"}, "mark": {"type": "text", "fontSize": 14.5, "color": "black"}, "encoding": {"text": {"field": "t"}}}
]
},
{
"width": 194, "height": 158,
"title": {"text": "(c)", "dx": -29, "offset": 8},
"encoding": {
  "x": {"field": "x", "type": "quantitative", "scale": {"domain": [0.443, 0.708], "nice": false, "zero": false},
        "axis": {"title": "Potential vs. RHE / V", "titlePadding": 1, "labelPadding": 0, "values": [0.45,0.475,0.5,0.525,0.55,0.575,0.6,0.625,0.65,0.675,0.7],
                 "labelExpr": "abs(datum.value*20-round(datum.value*20))<1e-6 ? format(datum.value,'.2f') : ''",
                 "tickSize": {"condition": {"test": "abs(datum.value*20-round(datum.value*20))<1e-6", "value": 3}, "value": 1.5}}},
  "y": {"field": "y", "type": "quantitative", "scale": {"domain": [-0.8, 50], "nice": false, "zero": false},
        "axis": {"title": "C⁻² / 10¹¹ F⁻²cm⁴", "titlePadding": 4, "labelPadding": 0, "titleY": 56, "values": [0,5,10,15,20,25,30,35,40,45,50],
                 "labelExpr": "datum.value % 10 === 0 ? format(datum.value,'d') : ''",
                 "tickSize": {"condition": {"test": "datum.value % 10 === 0", "value": 3}, "value": 1.5}}}
},
"layer": [
  {"data": {"name": "c"}, "mark": {"type": "point", "filled": true, "shape": "triangle-up", "size": 36, "opacity": 1},
   "encoding": {"color": {"field": "f", "type": "nominal", "scale": {"domain": ["63","50","40","30"], "range": ["#000000","#ff0000","#0000ff","#ff00ff"]},
     "legend": {"orient": "none", "legendX": 4, "legendY": 71, "title": null, "symbolType": "triangle-up", "symbolSize": 40, "labelFontSize": 8.5, "labelOffset": 9.9, "rowPadding": 1.5, "labelExpr": "'Freq - ' + datum.label + ' kHz'"}}}},
  {"data": {"name": "cL"}, "mark": {"type": "line", "strokeWidth": 1.5, "clip": true},
   "encoding": {"stroke": {"field": "g", "type": "nominal", "scale": {"domain": ["Linear fit - freq 63 kHz","Linear fit - freq 50 kHz","Linear fit - freq 40 kHz","Linear fit - freq 30 kHz"], "range": ["#000000","#ff0000","#0000ff","#ff00ff"]},
     "legend": {"orient": "none", "legendX": 4, "legendY": 111, "title": null, "symbolType": "M-4.75,0H4.75", "symbolSize": 16, "symbolStrokeWidth": 1.5, "labelFontSize": 8.5, "labelOffset": 8, "rowPadding": 0.6}}}},
  {"data": {"name": "cT"}, "mark": {"type": "text", "fontSize": 14.5, "color": "black"}, "encoding": {"text": {"field": "t"}}}
]
}
]
},
{
"bounds": "flush",
"spacing": 53,
"resolve": {"scale": {"color": "independent", "stroke": "independent", "shape": "independent"}, "legend": {"color": "independent", "stroke": "independent", "shape": "independent"}},
"hconcat": [
{"width": 68, "height": 10, "view": {"stroke": null}, "data": {"values": [{}]}, "mark": {"type": "point", "opacity": 0}, "encoding": {}},
{
"width": 188, "height": 159,
"title": {"text": "(d)", "dx": -50, "offset": -6},
"data": {"name": "d"},
"mark": {"type": "point", "filled": true, "size": 45, "opacity": 1},
"encoding": {
  "x": {"field": "x", "type": "quantitative", "scale": {"domain": [25, 65], "nice": false, "zero": false},
        "axis": {"title": "Freq. / kHz", "titlePadding": 0, "labelPadding": 1, "labelFontSize": 11, "values": [25,30,35,40,45,50,55,60,65],
                 "labelExpr": "datum.value % 10 === 0 ? format(datum.value,'d') : ''",
                 "tickSize": {"condition": {"test": "datum.value % 10 === 0", "value": 3.5}, "value": 2}}},
  "y": {"field": "y", "type": "quantitative", "scale": {"domain": [0.615, 0.67], "nice": false, "zero": false},
        "axis": {"title": "Efb vs. RHE / V", "titlePadding": 3, "titleY": 92, "labelFontSize": 11, "values": [0.615,0.62,0.625,0.63,0.635,0.64,0.645,0.65,0.655,0.66,0.665,0.67],
                 "labelExpr": "abs(datum.value*100-round(datum.value*100))<1e-6 ? format(datum.value,'.2f') : ''",
                 "tickSize": {"condition": {"test": "abs(datum.value*100-round(datum.value*100))<1e-6", "value": 3.5}, "value": 2}}},
  "color": {"field": "t", "type": "nominal", "scale": {"domain": ["5 min","20 min","60 min"], "range": ["#000000","#ff0000","#0000ff"]},
            "legend": {"orient": "none", "legendX": 3.7, "legendY": 2.5, "title": null, "symbolSize": 45, "labelFontSize": 11, "labelOffset": 9.6, "rowPadding": 2.5}},
  "shape": {"field": "t", "type": "nominal", "scale": {"domain": ["5 min","20 min","60 min"], "range": ["square","circle","triangle-up"]},
            "legend": {"orient": "none", "legendX": 3.7, "legendY": 2.5, "title": null, "symbolSize": 45, "labelFontSize": 11, "labelOffset": 9.6, "rowPadding": 2.5}}
}
},
{
"width": 187, "height": 159,
"title": {"text": "(e)", "dx": -38, "offset": -6},
"data": {"name": "e"},
"mark": {"type": "point", "filled": true, "size": 45, "opacity": 1},
"encoding": {
  "x": {"field": "x", "type": "quantitative", "scale": {"domain": [25, 65], "nice": false, "zero": false},
        "axis": {"title": "Freq. / kHz", "titlePadding": 0, "labelPadding": 1, "labelFontSize": 11, "values": [25,30,35,40,45,50,55,60,65],
                 "labelExpr": "datum.value % 10 === 0 ? format(datum.value,'d') : ''",
                 "tickSize": {"condition": {"test": "datum.value % 10 === 0", "value": 3.5}, "value": 2}}},
  "y": {"field": "y", "type": "quantitative", "scale": {"domain": [0, 7], "nice": false, "zero": false},
        "axis": {"title": "Nₐ / 10¹⁸ cm⁻³", "titlePadding": 3, "labelFontSize": 11, "values": [0,0.5,1,1.5,2,2.5,3,3.5,4,4.5,5,5.5,6,6.5,7],
                 "labelExpr": "datum.value % 1 === 0 ? format(datum.value,'d') : ''",
                 "tickSize": {"condition": {"test": "datum.value % 1 === 0", "value": 3.5}, "value": 2}}},
  "color": {"field": "t", "type": "nominal", "scale": {"domain": ["5 min","20 min","60 min"], "range": ["#000000","#ff0000","#0000ff"]},
            "legend": {"orient": "none", "legendX": 126.6, "legendY": 1.5, "title": null, "symbolSize": 45, "labelFontSize": 11, "labelOffset": 6.5, "rowPadding": 2.5}},
  "shape": {"field": "t", "type": "nominal", "scale": {"domain": ["5 min","20 min","60 min"], "range": ["square","circle","triangle-up"]},
            "legend": {"orient": "none", "legendX": 126.6, "legendY": 1.5, "title": null, "symbolSize": 45, "labelFontSize": 11, "labelOffset": 6.5, "rowPadding": 2.5}}
}
}
]
}
]
}
